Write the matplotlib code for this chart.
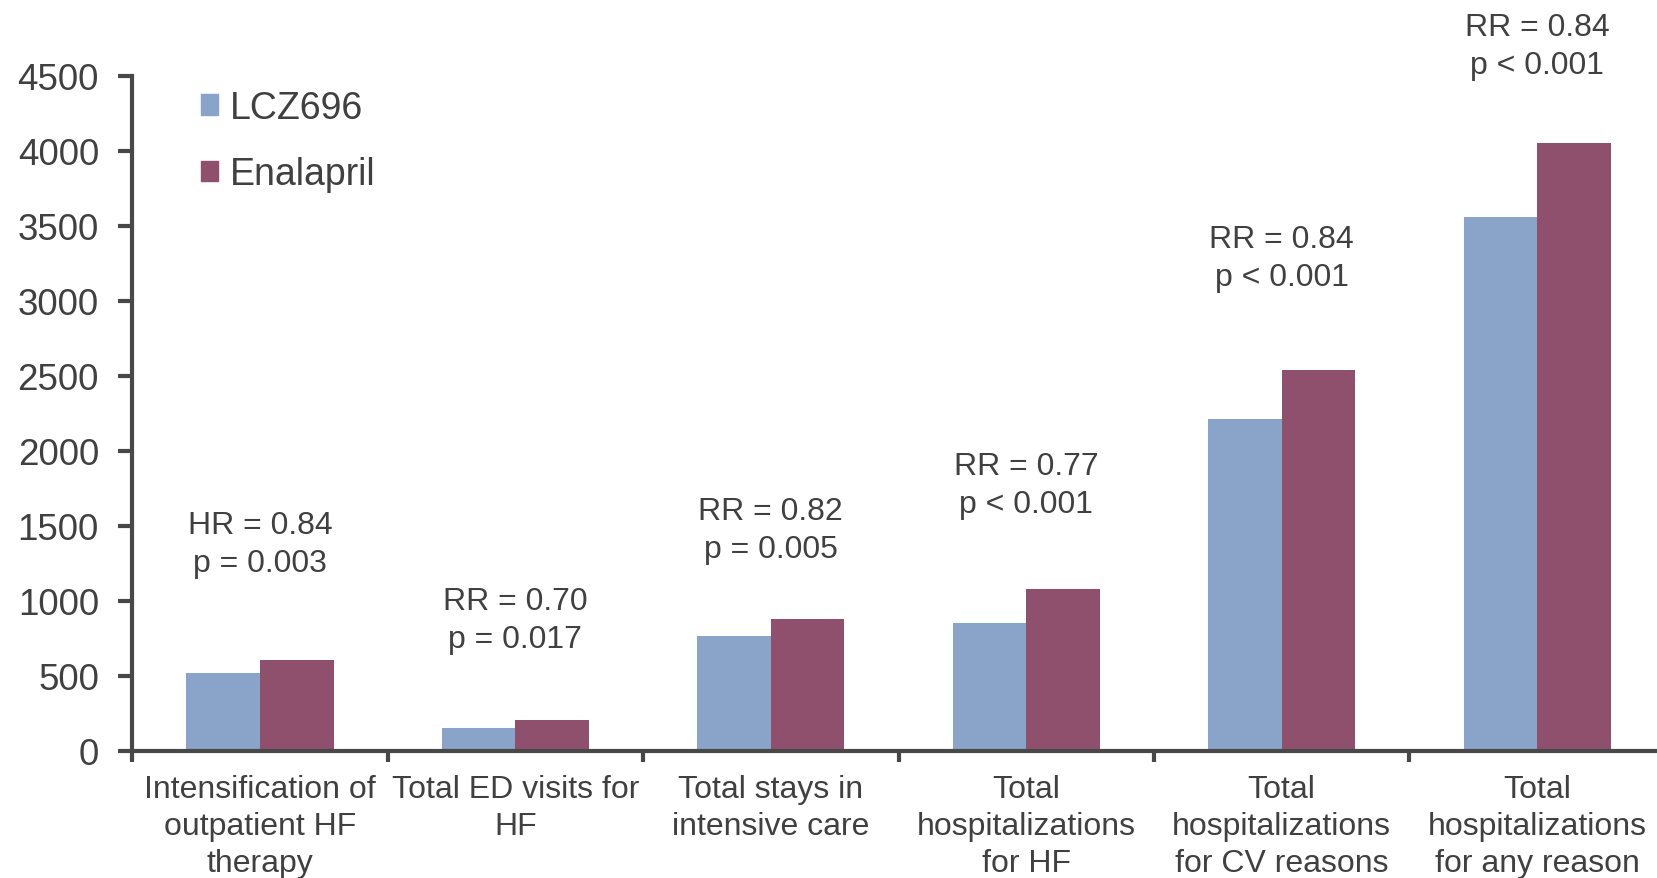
import numpy as np
import matplotlib
matplotlib.use("Agg")
import matplotlib.pyplot as plt
from matplotlib.patches import Patch

# event counts per outcome
categories = [
    "Intensification of\noutpatient HF\ntherapy",
    "Total ED visits for\nHF",
    "Total stays in\nintensive care",
    "Total\nhospitalizations\nfor HF",
    "Total\nhospitalizations\nfor CV reasons",
    "Total\nhospitalizations\nfor any reason",
]
lcz696 = [518, 149, 767, 849, 2213, 3560]
enalapril = [603, 207, 878, 1076, 2536, 4049]
ratio_labels = ["HR = 0.84", "RR = 0.70", "RR = 0.82", "RR = 0.77", "RR = 0.84", "RR = 0.84"]
p_labels = ["p = 0.003", "p = 0.017", "p = 0.005", "p < 0.001", "p < 0.001", "p < 0.001"]
y_ticks = [0, 500, 1000, 1500, 2000, 2500, 3000, 3500, 4000, 4500]

# baseline (data units) of the p-value line above each group
note_y = [1200, 689, 1289, 1589, 3105, 4518]

text_color = "#404040"
axis_color = "#484848"
blue = "#89a3c9"
plum = "#8f506e"

plt.rcParams["font.family"] = ["Liberation Sans", "DejaVu Sans"]

fig = plt.figure(figsize=(16.58, 8.79), dpi=100)
ax = fig.add_axes([0.0798, 0.1448, 0.9243, 0.7679])

x = np.arange(len(categories)) + 0.5
w = 0.288
ax.bar(x - w / 2, lcz696, width=w, color=blue, label="LCZ696")
ax.bar(x + w / 2, enalapril, width=w, color=plum, label="Enalapril")

ax.set_xlim(0, len(categories))
ax.set_ylim(0, 4500)

# spines
for side in ["top", "right"]:
    ax.spines[side].set_visible(False)
for side in ["left", "bottom"]:
    ax.spines[side].set_color(axis_color)
    ax.spines[side].set_linewidth(3)

# y axis
ax.set_yticks(y_ticks)
ax.tick_params(axis="y", direction="out", length=10, width=3, color=axis_color,
               labelsize=26.5, labelcolor=text_color, pad=14)

# x axis: ticks between groups, labels at group centres
ax.set_xticks(np.arange(len(categories) + 1))
ax.set_xticklabels([])
ax.set_xticks(x, minor=True)
ax.set_xticklabels(categories, minor=True)
ax.tick_params(axis="x", which="major", direction="out", length=8, width=3, color=axis_color)
ax.tick_params(axis="x", which="minor", length=0, labelsize=23, labelcolor=text_color, pad=17)
for lab in ax.get_xticklabels(minor=True):
    lab.set_linespacing(1.29)

# ratio / p-value annotations
for xi, yi, r, p in zip(x, note_y, ratio_labels, p_labels):
    ax.text(xi, yi, r + "\n" + p, ha="center", va="baseline", fontsize=23,
            color=text_color, linespacing=1.35, clip_on=False)

handles = [Patch(color=blue), Patch(color=plum)]
leg = fig.legend(handles, ["LCZ696", "Enalapril"], loc="upper left",
                 bbox_to_anchor=(0.110, 0.918), frameon=False, fontsize=27,
                 handlelength=0.46, handleheight=0.46, handletextpad=0.3,
                 labelspacing=0.81, borderpad=0)
for t in leg.get_texts():
    t.set_color(text_color)

fig.savefig("out.png", dpi=100)
